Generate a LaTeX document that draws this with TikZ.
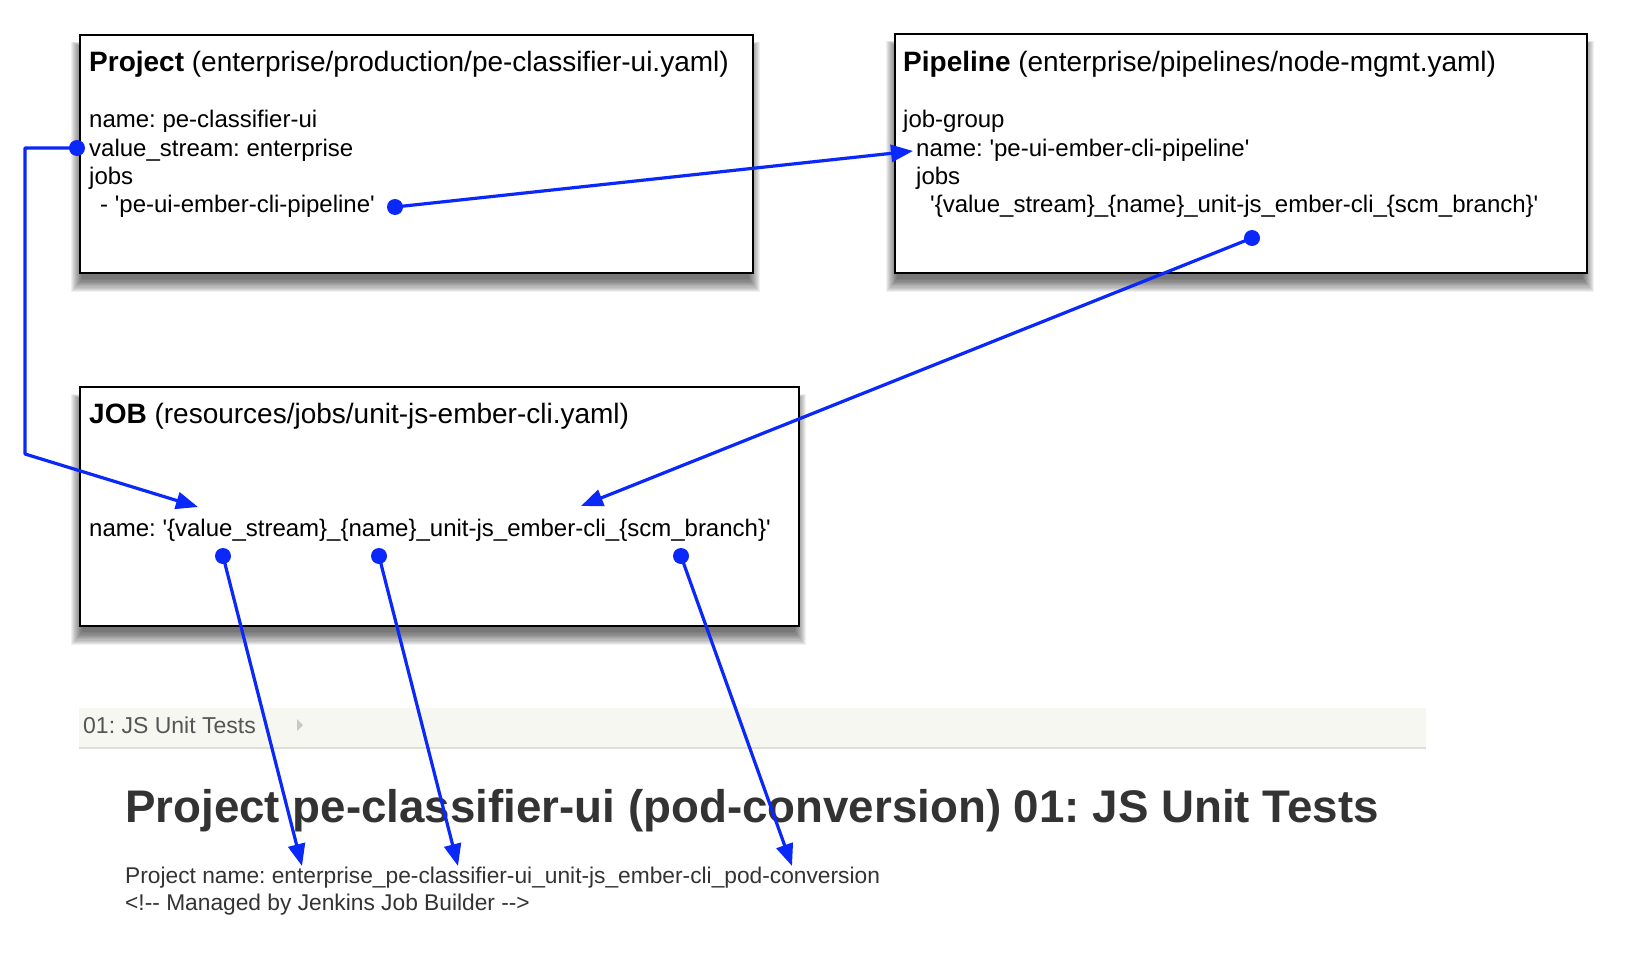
\documentclass[tikz,border=0pt]{standalone}
\usepackage{fontspec}
\setmainfont[Ligatures=TeXOff]{Liberation Sans}
\usetikzlibrary{arrows.meta}
\definecolor{conn}{RGB}{10,40,250}
\definecolor{crumbbg}{RGB}{245,247,240}
\definecolor{crumbline}{RGB}{220,222,215}
\definecolor{pagetext}{RGB}{51,51,51}
\definecolor{crumbtext}{RGB}{85,85,85}
\definecolor{crumbarrow}{RGB}{200,200,200}
\newcommand\softshadow[4]{%
  \foreach \r in {1,...,12}{%
    \fill[black,opacity=0.058] (#1+4-\r,#2+14-\r*0.5) rectangle (#3-4+\r,#4+6+\r*1.2);
  }%
}
\begin{document}
\frenchspacing
\begin{tikzpicture}[x=1pt,y=-1pt,
  yamlbox/.style={draw=black,line width=2.2pt,fill=white,anchor=north west,inner sep=0pt},
  boxhead/.style={anchor=base west,inner sep=0pt,font=\fontsize{28}{28}\selectfont},
  boxline/.style={anchor=base west,inner sep=0pt,font=\fontsize{24}{28}\selectfont},
  pageline/.style={anchor=base west,inner sep=0pt,text=pagetext,font=\fontsize{22.75}{27}\selectfont},
  link/.style={draw=conn,line width=3.2pt,line join=round,-{Triangle[length=22pt,width=17pt]}},
  dot/.style={circle,fill=conn,inner sep=0pt,minimum size=16pt},
]
\useasboundingbox (0,0) rectangle (1626,966);
\fill[white] (0,0) rectangle (1626,966);

% shadows
\softshadow{79}{34}{752}{272}
\softshadow{894}{33}{1586}{272}
\softshadow{79}{386}{798}{625}

% boxes
\node[yamlbox,minimum width=673pt,minimum height=238pt] (proj) at (79,34) {};
\node[yamlbox,minimum width=692pt,minimum height=239pt] (pipe) at (894,33) {};
\node[yamlbox,minimum width=719pt,minimum height=239pt] (job) at (79,386) {};

% project text
\node[boxhead] (projT) at (89,72) {\textbf{Project} (enterprise/production/pe-classifier-ui.yaml)};
\node[boxline] (projName) at (89,128) {name: pe-classifier-ui};
\node[boxline] (projVS) at (89,156) {value\_stream: enterprise};
\node[boxline] (projJobs) at (89,184) {jobs};
\node[boxline] (projPipe) at (100,212) {- 'pe-ui-ember-cli-pipeline'};

% pipeline text
\node[boxhead] (pipeT) at (903,72) {\textbf{Pipeline} (enterprise/pipelines/node-mgmt.yaml)};
\node[boxline] (pipeGroup) at (903,128) {job-group};
\node[boxline] (pipeName) at (916,156) {name: 'pe-ui-ember-cli-pipeline'};
\node[boxline] (pipeJobs) at (916,184) {jobs};
\node[boxline] (pipeJob) at (930,212) {'\{value\_stream\}\_\{name\}\_unit-js\_ember-cli\_\{scm\_branch\}'};

% job text
\node[boxhead] (jobT) at (89,423) {\textbf{JOB} (resources/jobs/unit-js-ember-cli.yaml)};
\node[boxline] (jobName) at (89,536) {name: '\{value\_stream\}\_\{name\}\_unit-js\_ember-cli\_\{scm\_branch\}'};

% page excerpt
\fill[crumbbg] (79,708) rectangle (1426,748);
\draw[crumbline,line width=1.5pt] (79,748) -- (1426,748);
\node[anchor=base west,inner sep=0pt,text=crumbtext,font=\fontsize{23}{23}\selectfont] (crumb) at (83,733) {01: JS Unit Tests};
\fill[crumbarrow] (297,719) -- (303,725) -- (297,731) -- cycle;
\node[anchor=base west,inner sep=0pt,text=pagetext,font=\fontsize{45.7}{46}\selectfont\bfseries] (title) at (125,822) {Project pe-classifier-ui (pod-conversion) 01: JS Unit Tests};
\node[pageline] (pname) at (125,883) {Project name: enterprise\_pe-classifier-ui\_unit-js\_ember-cli\_pod-conversion};
\node[pageline] (managed) at (125,910) {<!-- Managed by Jenkins Job Builder -->};

% connector points
\coordinate (vsDot) at (77,148);
\coordinate (leftTop) at (25,148);
\coordinate (leftBot) at (25,454);
\coordinate (jobVSin) at (198,507);
\coordinate (pipeDot) at (395,207);
\coordinate (pipeIn) at (913,151);
\coordinate (jobsDot) at (1252,238);
\coordinate (jobIn) at (581,506);
\coordinate (d1) at (223,556);
\coordinate (d2) at (379,556);
\coordinate (d3) at (681,556);
\coordinate (t1) at (302,866);
\coordinate (t2) at (458,866);
\coordinate (t3) at (792,866);

\draw[link] (vsDot) -- (leftTop) -- (leftBot) -- (jobVSin);
\draw[link] (pipeDot) -- (pipeIn);
\draw[link] (jobsDot) -- (jobIn);
\draw[link] (d1) -- (t1);
\draw[link] (d2) -- (t2);
\draw[link] (d3) -- (t3);
\foreach \p in {vsDot,pipeDot,jobsDot,d1,d2,d3} \node[dot] at (\p) {};
\end{tikzpicture}
\end{document}
